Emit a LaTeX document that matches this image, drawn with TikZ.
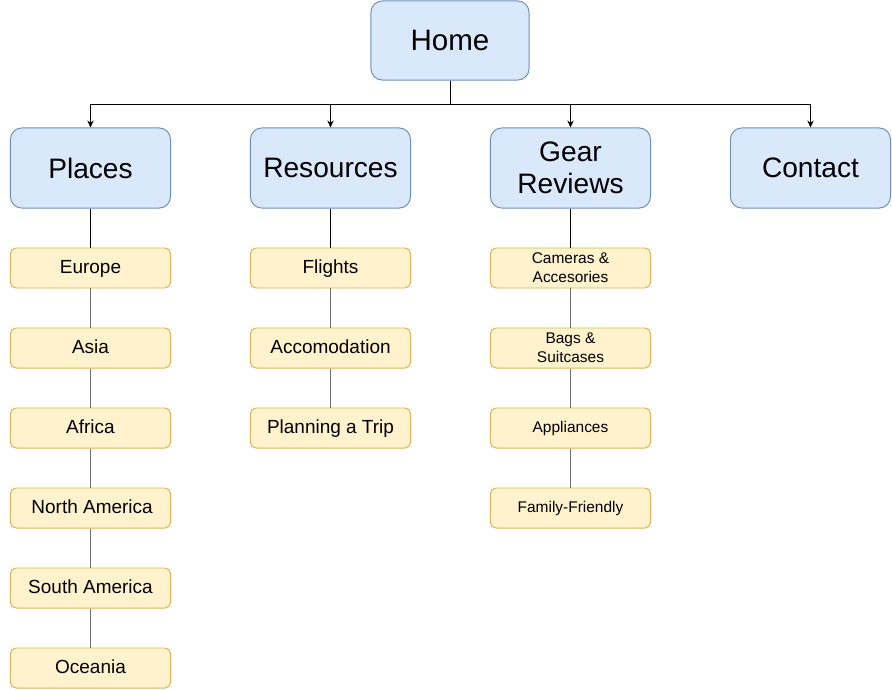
\documentclass[tikz,border=0pt]{standalone}
\usepackage{fontspec}
\setmainfont{Liberation Sans}
\usetikzlibrary{arrows.meta}
\definecolor{topfill}{HTML}{DAE8FC}
\definecolor{topline}{HTML}{6C8EBF}
\definecolor{subfill}{HTML}{FFF2CC}
\definecolor{subline}{HTML}{D6B656}
\definecolor{linkgray}{HTML}{6E6E6E}
\tikzset{
  page/.style={draw,rounded corners=8pt,fill=topfill,draw=topline,line width=0.7pt,
    minimum width=4cm,minimum height=2cm,inner sep=0pt,align=center,
    font=\fontsize{20}{22.7}\selectfont},
  homepage/.style={page,minimum width=3.95cm,minimum height=1.975cm,
    font=\fontsize{21}{24}\selectfont},
  subbox/.style={draw,rounded corners=4pt,fill=subfill,draw=subline,line width=0.7pt,
    minimum width=4cm,minimum height=1cm,inner sep=0pt,align=center},
  subpage/.style={subbox,text height=0.92em,text depth=0.2em,
    font=\fontsize{13.5}{16}\selectfont},
  smallsub/.style={subbox,font=\fontsize{11}{13.5}\selectfont},
  link/.style={-{Stealth[length=5pt,width=4.5pt]},line width=0.7pt},
  sublink/.style={linkgray,line width=0.8pt},
}
\begin{document}
\begin{tikzpicture}[x=0.025cm,y=-0.025cm]
    \useasboundingbox (0,0) rectangle (892,689);
    % main pages
    \node[homepage] (home) at (450,40.5) {Home};
    \node[page] (places) at (90.5,168) {Places};
    \node[page] (resources) at (330.5,168) {Resources};
    \node[page] (gear) at (570.5,168) {Gear\\Reviews};
    \node[page] (contact) at (810.5,168) {Contact};
    \coordinate (bus) at (450,104);
    \draw[link] (home.south) -- (bus) -| (places.north);
    \draw[link] (home.south) -- (bus) -| (resources.north);
    \draw[link] (home.south) -- (bus) -| (gear.north);
    \draw[link] (home.south) -- (bus) -| (contact.north);
    % places
    \node[subpage] (europe) at (90.5,268) {Europe};
    \node[subpage] (asia) at (90.5,348) {Asia};
    \node[subpage] (africa) at (90.5,428) {Africa};
    \node[subpage] (namerica) at (90.5,508) {\,North America};
    \node[subpage] (samerica) at (90.5,588) {South America};
    \node[subpage] (oceania) at (90.5,668) {Oceania};
    \draw[line width=0.7pt] (places) -- (europe);
    \draw[sublink] (europe) -- (asia);
    \draw[sublink] (asia) -- (africa);
    \draw[sublink] (africa) -- (namerica);
    \draw[sublink] (namerica) -- (samerica);
    \draw[sublink] (samerica) -- (oceania);
    % resources
    \node[subpage] (flights) at (330.5,268) {Flights};
    \node[subpage] (accom) at (330.5,348) {Accomodation};
    \node[subpage] (trip) at (330.5,428) {Planning a Trip};
    \draw[line width=0.7pt] (resources) -- (flights);
    \draw[sublink] (flights) -- (accom);
    \draw[sublink] (accom) -- (trip);
    % gear reviews
    \node[smallsub] (cameras) at (570.5,268) {Cameras \&\\Accesories};
    \node[smallsub] (bags) at (570.5,348) {Bags \&\\Suitcases};
    \node[smallsub] (appliances) at (570.5,428) {Appliances};
    \node[smallsub] (family) at (570.5,508) {Family-Friendly};
    \draw[line width=0.7pt] (gear) -- (cameras);
    \draw[sublink] (cameras) -- (bags);
    \draw[sublink] (bags) -- (appliances);
    \draw[sublink] (appliances) -- (family);
\end{tikzpicture}
\end{document}
